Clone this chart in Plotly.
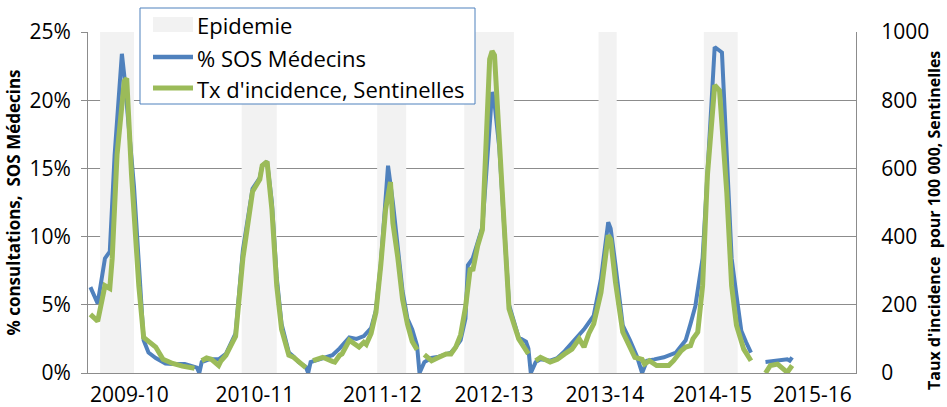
import plotly.graph_objects as go

# ---- data (week index from start of series) ----
sos_weeks = [1, 4, 7, 9, 11, 14, 15, 19, 23, 25, 28, 32, 35, 40, 45, 46, 47, 50, 54, 57, 61, 64, 68, 70, 71, 72, 74, 76, 78, 80,
             83, 85, 87, 90, 91, 92, 97, 101, 104, 108, 111, 114, 117, 119, 121, 123, 124, 126, 128, 130, 132, 134, 136, 137,
             139, 142, 145, 150, 152, 154, 156, 157, 159, 161, 163, 167, 168, 170, 172, 174, 178, 181, 182, 183, 185, 187,
             191, 194, 197, 200, 203, 205, 209, 212, 215, 216, 218, 221, 224, 227, 229, 231, 234, 238, 243, 247, 249, 251,
             254, 256, 259, 262, 264, 266, 268, 270, 272, 274, 275, 280, 285, 289, 290, 291]
sos_pct = [6.3, 5.1, 8.4, 8.9, 16.0, 23.4, 21.8, 13.7, 2.4, 1.5, 1.1, 0.7, 0.66, 0.66, 0.4, 0, 0.8, 1.0, 1.0, 1.4, 2.9, 9.0, 13.5, 14.0, 14.3, 15.2, 15.5, 12.5, 7.0, 3.6,
           1.5, 1.2, 0.8, 0.45, 0, 0.8, 1.1, 1.3, 1.8, 2.6, 2.5, 2.7, 3.3, 4.6, 8.0, 12.8, 15.2, 12.5, 9.2, 6.0, 4.0, 3.2, 2.0, 0,
           0.8, 1.1, 1.2, 1.5, 1.9, 2.4, 4.0, 7.9, 8.4, 9.5, 10.7, 20.6, 19.8, 16.5, 11.0, 5.0, 2.6, 2.3, 1.8, 0, 0.8, 1.0,
           0.9, 1.1, 1.6, 2.2, 2.8, 3.2, 4.2, 6.9, 11.05, 10.6, 7.9, 3.5, 2.4, 1.15, 0, 0.9, 1.0, 1.15, 1.5, 2.4, 3.6, 4.9,
           8.4, 15.0, 23.9, 23.5, 15.7, 8.4, 5.7, 3.1, 2.25, 1.5, None, 0.8, 0.9, 1.0, 0.9, 1.15]

senti_weeks = [1, 4, 7, 9, 10, 12, 15, 16, 18, 21, 23, 26, 28, 31, 35, 39, 44, 45, 47, 49, 51, 54, 55, 57, 61, 64, 68, 70, 71, 72,
               74, 76, 78, 80, 83, 85, 87, 90, 91, 93, 97, 101, 102, 104, 105, 108, 111, 112, 114, 115, 117, 119, 121, 123, 125,
               126, 128, 130, 132, 134, 136, 137, 139, 142, 145, 148, 150, 152, 154, 156, 158, 159, 161, 163, 166, 167, 168,
               170, 172, 174, 178, 182, 183, 185, 187, 191, 194, 197, 200, 203, 205, 207, 209, 212, 215, 216, 218, 221, 224,
               226, 229, 230, 232, 235, 240, 242, 245, 247, 249, 250, 252, 254, 256, 259, 261, 264, 266, 268, 271, 274, 275,
               280, 282, 285, 287, 289, 291]
senti_rate = [172, 152, 256, 248, 336, 640, 856, 864, 580, 256, 104, 88, 76, 40, 28, 20, 14, None, 36, 44, 40, 22, 36, 52, 108, 336, 532, 556, 568, 608,
              620, 480, 256, 128, 52, 46, 32, 16, None, 36, 46, 34, 32, 52, 56, 96, 84, 76, 90, 84, 116, 178, 316, 480, 560,
              440, 340, 216, 144, 92, 68, None, 54, 36, 46, 56, 56, 76, 112, 192, 308, 300, 372, 420, 920, 944, 932,
              660, 432, 188, 100, 56, None, 36, 46, 32, 40, 56, 70, 100, 76, 116, 144, 236, 404, 392, 266, 120, 76,
              46, 40, 26, 36, 22, 22, 36, 64, 76, 80, 100, 120, 256, 580, 844, 828, 530, 256, 140, 70, 36, None,
              0, 22, 26, 16, 2, 22]

epi_start = [5, 63.5, 119.5, 155.5, 211, 254.5]
epi_end = [19, 78, 131.5, 176, 218.5, 268.5]

season_pos = [17.1, 69.0, 121.7, 167.8, 213.6, 258.1, 299.4]
season_labels = ["2009-10", "2010-11", "2011-12", "2012-13", "2013-14", "2014-15", "2015-16"]

series_names = ["Epidemie", "% SOS Médecins", "Tx d'incidence, Sentinelles"]

# ---- layout geometry (pixels in a 947x407 canvas) ----
W, H = 947, 407
L, R, T, B = 88, 91, 32, 34
PW, PH = W - L - R, H - T - B


def px(x):
    return (x - L) / PW


def py(y):
    return (H - B - y) / PH


FONT = "Open Sans"
GRID = "#8c8c8c"
BLUE = "#4F81BD"
GREEN = "#9BBB59"
BAND = "#F2F2F2"

# ---- epidemic band polygons ----
bx, by = [], []
for s, e in zip(epi_start, epi_end):
    bx += [s, s, e, e, s, None]
    by += [0, 25, 25, 0, 0, None]

fig = go.Figure()
fig.add_trace(go.Scatter(x=bx, y=by, fill="toself", fillcolor=BAND, mode="lines",
                         line=dict(width=0, color=BAND), name=series_names[0],
                         hoverinfo="skip", showlegend=False))
fig.add_trace(go.Scatter(x=sos_weeks, y=sos_pct, mode="lines", name=series_names[1],
                         line=dict(color=BLUE, width=4), connectgaps=False, showlegend=False))
fig.add_trace(go.Scatter(x=senti_weeks, y=senti_rate, mode="lines", name=series_names[2],
                         line=dict(color=GREEN, width=5), connectgaps=False, yaxis="y2",
                         showlegend=False))

# ---- legend drawn as shapes + text ----
shapes = [
    dict(type="rect", xref="paper", yref="paper", x0=px(140), x1=px(475), y0=py(104), y1=py(8),
         line=dict(color=BLUE, width=1), fillcolor="white", layer="above"),
    dict(type="rect", xref="paper", yref="paper", x0=px(153), x1=px(193), y0=py(32), y1=py(17),
         line=dict(width=0), fillcolor=BAND, layer="above"),
    dict(type="line", xref="paper", yref="paper", x0=px(153), x1=px(193), y0=py(57), y1=py(57),
         line=dict(color=BLUE, width=4.5), layer="above"),
    dict(type="line", xref="paper", yref="paper", x0=px(153), x1=px(193), y0=py(88), y1=py(88),
         line=dict(color=GREEN, width=5), layer="above"),
]
annotations = []
for name, yc in zip(series_names, [24, 57, 88]):
    annotations.append(dict(text=name, xref="paper", yref="paper", x=px(195), y=py(yc + 1),
                            xanchor="left", yanchor="middle", showarrow=False,
                            font=dict(family=FONT, size=22, color="#000000")))
annotations.append(dict(text="Taux d'incidence  pour 100 000, Sentinelles", xref="paper", yref="paper",
                        x=px(934), y=py(221), xanchor="center", yanchor="middle", textangle=-90,
                        borderpad=0, showarrow=False,
                        font=dict(family=FONT, size=16, weight="bold", color="#000000")))

fig.update_layout(
    width=W, height=H,
    margin=dict(l=L, r=R, t=T, b=B, autoexpand=False),
    paper_bgcolor="white", plot_bgcolor="white",
    font=dict(family=FONT, size=21, color="#000000"),
    showlegend=False,
    shapes=shapes,
    annotations=annotations,
    xaxis=dict(range=[0, 317.4], tickmode="array", tickvals=season_pos, ticktext=season_labels,
               showgrid=False, zeroline=False, showline=True, linecolor=GRID, linewidth=1,
               ticks="", ticklabelstandoff=3, tickfont=dict(size=21), automargin=False),
    yaxis=dict(range=[0, 25], dtick=5, ticksuffix="%", showgrid=True, gridcolor=GRID, gridwidth=1,
               zeroline=False, showline=True, linecolor=GRID, linewidth=1,
               ticks="outside", ticklen=6, tickcolor=GRID, ticklabelstandoff=6,
               tickfont=dict(size=21), automargin=False,
               title=dict(text="% consultations,  SOS Médecins", standoff=4,
                          font=dict(family=FONT, size=17, weight="bold"))),
    yaxis2=dict(range=[0, 1000], dtick=200, overlaying="y", side="right", showgrid=False,
                zeroline=False, showline=True, linecolor=GRID, linewidth=1, ticks="",
                ticklabelstandoff=20, tickfont=dict(size=21), automargin=False),
)

fig.write_html("out.html", config={"displayModeBar": False},
               post_script="document.body.style.margin='0';document.body.style.overflow='hidden';")
